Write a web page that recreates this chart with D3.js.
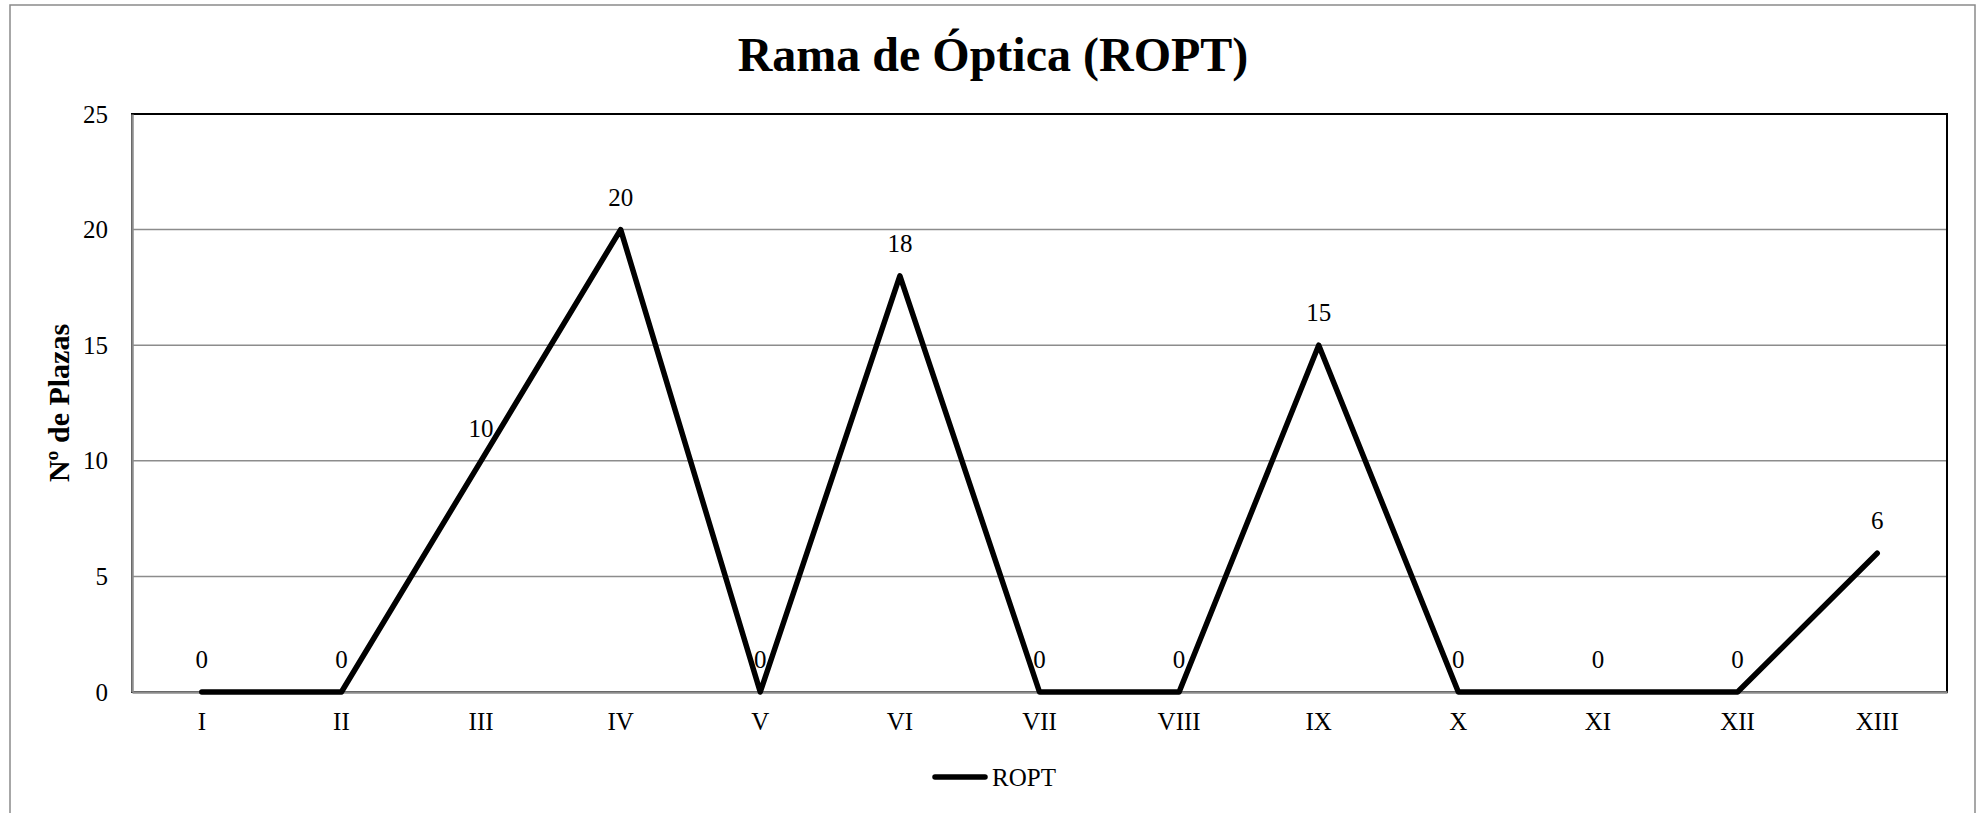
<!DOCTYPE html>
<html>
<head>
<meta charset="utf-8">
<script src="https://cdn.jsdelivr.net/npm/d3@7"></script>
<style>
  html, body { margin: 0; padding: 0; background: #fff; }
  svg { display: block; font-family: "Liberation Serif", "Times New Roman", serif; }
</style>
</head>
<body>
<svg id="chart" width="1977" height="813"></svg>
<script>
// Plazas por periodo, rama de Óptica
const categories = ["I", "II", "III", "IV", "V", "VI", "VII", "VIII", "IX", "X", "XI", "XII", "XIII"];
const values = [0, 0, 10, 20, 0, 18, 0, 0, 15, 0, 0, 0, 6];
const yTicks = [0, 5, 10, 15, 20, 25];
const seriesName = "ROPT";
const titleText = "Rama de Óptica (ROPT)";
const yTitle = "Nº de Plazas";

const svg = d3.select("#chart");
const W = 1977, H = 813;
const plot = { left: 132, right: 1947, top: 114, bottom: 692 };
const serif = "Liberation Serif, Times New Roman, serif";

// outer chart frame
svg.append("rect")
  .attr("x", 10).attr("y", 5)
  .attr("width", 1965).attr("height", H + 20)
  .attr("fill", "#fff").attr("stroke", "#8a8a8a").attr("stroke-width", 1.5);

const x = d3.scaleBand().domain(categories).range([plot.left, plot.right]).padding(0);
const y = d3.scaleLinear().domain([0, 25]).range([plot.bottom, plot.top]);
const cx = d => x(d) + x.bandwidth() / 2;

// horizontal gridlines
svg.append("g")
  .selectAll("line")
  .data(yTicks.filter(t => t > 0 && t < 25))
  .join("line")
  .attr("x1", plot.left).attr("x2", plot.right)
  .attr("y1", d => y(d)).attr("y2", d => y(d))
  .attr("stroke", "#8c8c8c").attr("stroke-width", 1.5);

// plot area border
svg.append("rect")
  .attr("x", plot.left).attr("y", plot.top)
  .attr("width", plot.right - plot.left).attr("height", plot.bottom - plot.top)
  .attr("fill", "none").attr("stroke", "#000").attr("stroke-width", 2);

// y axis
const yAxis = d3.axisLeft(y).tickValues(yTicks).tickSize(0).tickPadding(24);
const gy = svg.append("g").attr("transform", `translate(${plot.left},0)`).call(yAxis)
  .attr("font-family", serif).attr("font-size", 25);
gy.select(".domain").attr("stroke", "#8c8c8c").attr("stroke-width", 2.5);
gy.selectAll("text").attr("fill", "#000");

// x axis
const xAxis = d3.axisBottom(x).tickSize(0).tickPadding(20);
const gx = svg.append("g").attr("transform", `translate(0,${plot.bottom})`).call(xAxis)
  .attr("font-family", serif).attr("font-size", 25);
gx.select(".domain").attr("stroke", "#8c8c8c").attr("stroke-width", 2.5);
gx.selectAll("text").attr("fill", "#000");

// series line
const line = d3.line()
  .x((d, i) => cx(categories[i]))
  .y(d => y(d));

svg.append("path")
  .datum(values)
  .attr("d", line)
  .attr("fill", "none")
  .attr("stroke", "#000")
  .attr("stroke-width", 5.5)
  .attr("stroke-linecap", "round")
  .attr("stroke-linejoin", "round");

// value labels
svg.append("g")
  .attr("font-family", serif)
  .selectAll("text")
  .data(values)
  .join("text")
  .attr("x", (d, i) => cx(categories[i]))
  .attr("y", d => y(d) - 24)
  .attr("text-anchor", "middle")
  .attr("font-size", 25)
  .attr("fill", "#000")
  .text(d => d);

// title
svg.append("text")
  .attr("x", 993).attr("y", 71)
  .attr("text-anchor", "middle")
  .attr("font-family", serif)
  .attr("font-size", 48)
  .attr("font-weight", "bold")
  .text(titleText);

// y axis title
svg.append("text")
  .attr("transform", `translate(58,${(plot.top + plot.bottom) / 2}) rotate(-90)`)
  .attr("text-anchor", "middle")
  .attr("dominant-baseline", "central")
  .attr("font-family", serif)
  .attr("font-size", 30)
  .attr("font-weight", "bold")
  .text(yTitle);

// legend
const lg = svg.append("g");
lg.append("line")
  .attr("x1", 935).attr("x2", 985)
  .attr("y1", 777).attr("y2", 777)
  .attr("stroke", "#000").attr("stroke-width", 5.5)
  .attr("stroke-linecap", "round");
lg.append("text")
  .attr("x", 992).attr("y", 786)
  .attr("font-family", serif)
  .attr("font-size", 25)
  .text(seriesName);
</script>
</body>
</html>
